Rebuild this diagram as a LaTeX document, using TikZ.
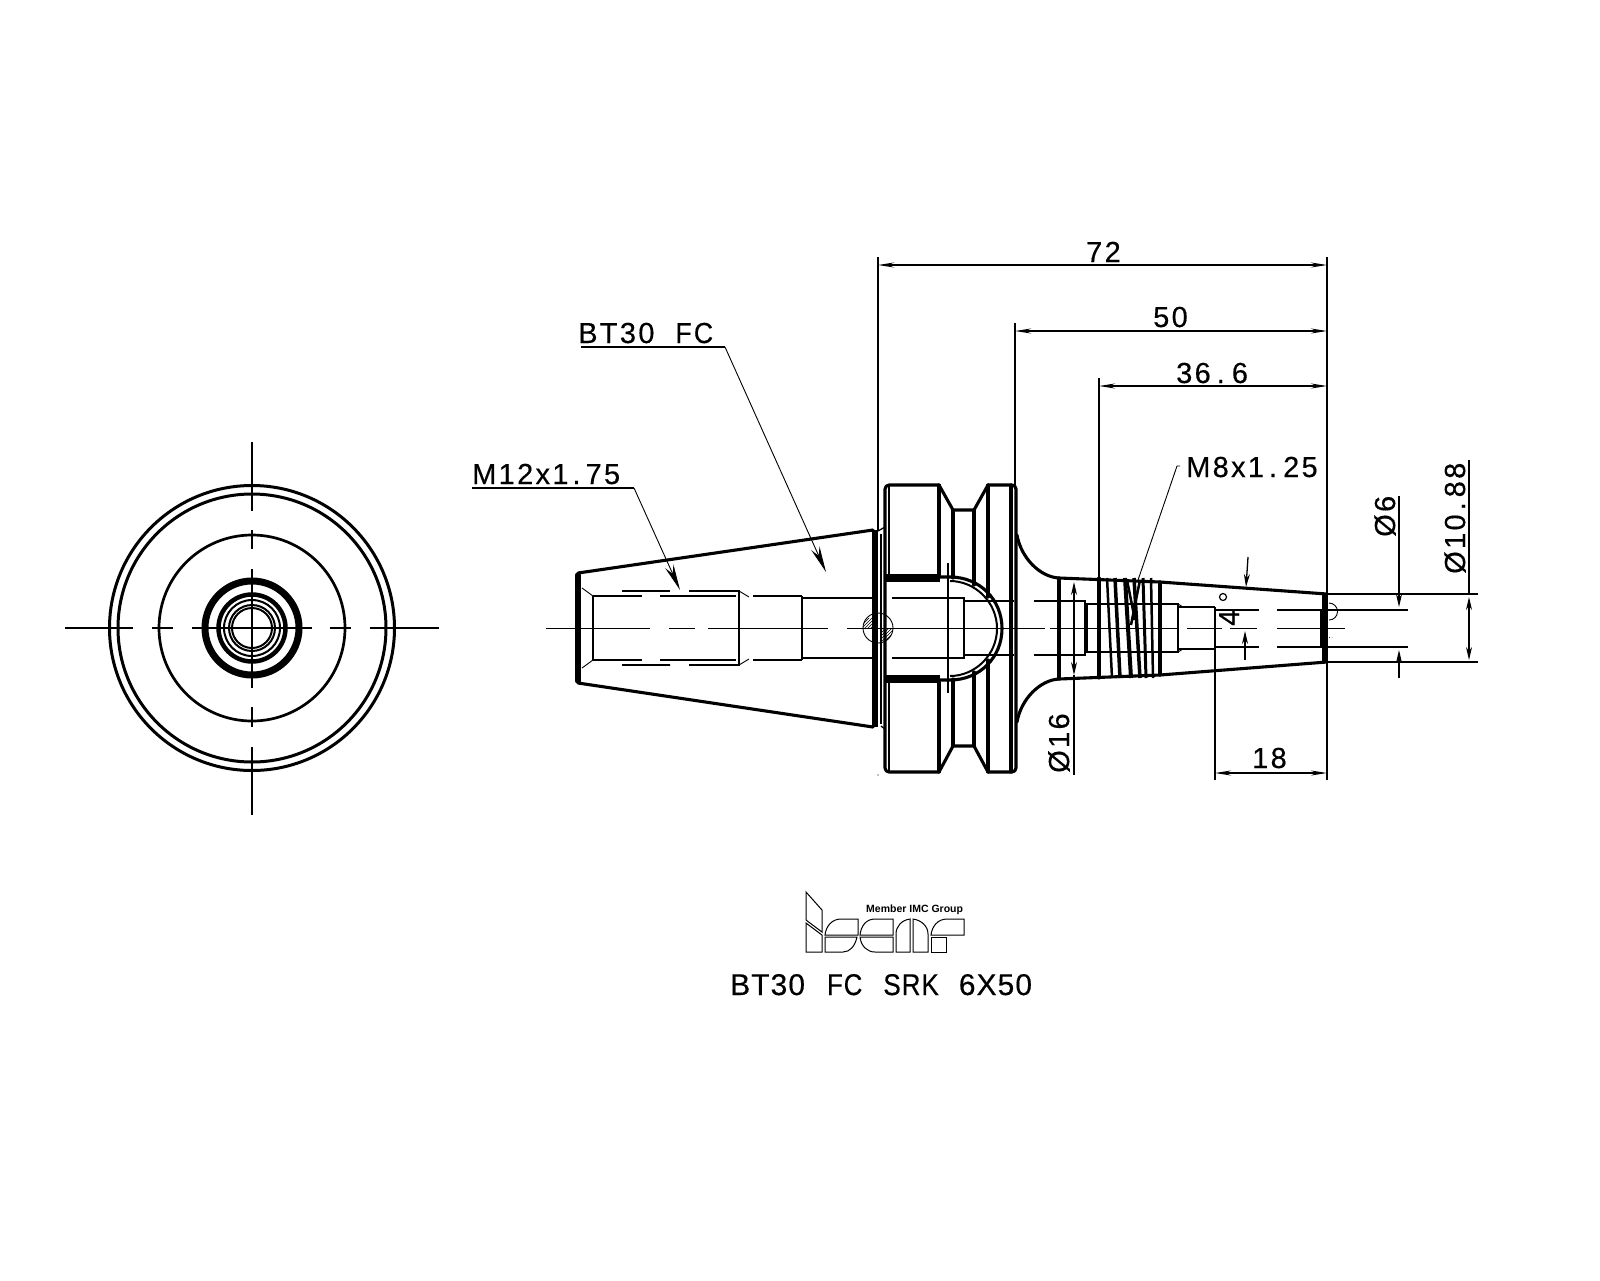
\documentclass[tikz,border=0pt]{standalone}
\usepackage{fontspec}
\setmainfont{Liberation Sans}
\newfontfamily\cadfont[LetterSpace=8,FakeBold=0.35]{Liberation Sans}
\newfontfamily\titlefont[LetterSpace=3.5,FakeBold=0.35]{Liberation Sans}
\usetikzlibrary{arrows.meta,patterns}
\newcommand{\cadpt}{\kern4pt.\kern5pt}
\tikzset{
  heavy/.style={line width=3.1pt,line join=round,line cap=round},
  bar/.style={line width=5.5pt,line cap=round},
  mid/.style={line width=2pt},
  thin line/.style={line width=1.3pt},
  hair/.style={line width=0.9pt},
  dimflat/.style={line width=1.3pt,{Stealth[length=16pt,width=5pt]}-{Stealth[length=16pt,width=5pt]}},
  tipv/.style={line width=1.3pt,-{Stealth[length=13pt,width=6pt]}},
  tipv2/.style={line width=1.3pt,{Stealth[length=13pt,width=6pt]}-{Stealth[length=13pt,width=6pt]}},
  leader/.style={line width=0.9pt,-{Stealth[length=26pt,width=9pt]}},
  dimtext/.style={inner sep=0pt,anchor=base west,font=\cadfont\fontsize{29}{29}\selectfont},
  logoline/.style={line width=1pt,line join=miter},
}
\begin{document}
\begin{tikzpicture}[x=1pt,y=-1pt]
\useasboundingbox (0,0) rectangle (1600,1280);
\fill[white] (0,0) rectangle (1600,1280);

% ---------- end view
\foreach \r/\w in {142.5/3,134/3,93/2.7,47/7,33.5/4.5,28/2,23/2,20/2}
  \draw[line width=\w pt] (252,628) circle (\r);
\foreach \a/\b in {65/133,152/173,192/312,330/351,370/439}
  \draw[thin line] (\a,628) -- (\b,628);
\foreach \a/\b in {442/511,530/549,569/688,707/727,747/815}
  \draw[thin line] (252,\a) -- (252,\b);

% ---------- cone
\draw[heavy] (578,573) -- (873,530);
\draw[heavy] (578,683) -- (873,727);
\draw[bar] (578,575) -- (578,681);
\draw[line width=6.5pt] (875,530) -- (875,727);
\draw[thin line] (881,534) -- (881,724);
\draw[thin line] (878,531) -- (885,527) (881,726) -- (885,729);
% cone inner
\draw[hair] (582,588) -- (593,596) (582,668) -- (593,660);
\draw[thin line] (593,596) -- (593,660);
\draw[thin line] (593,596) -- (642,596) (660,596) -- (736,596);
\draw[thin line] (593,660) -- (642,660) (660,660) -- (736,660);
\draw[thin line] (622,591) -- (670,591) (689,591) -- (739,591) -- (739,665) -- (689,665) (670,665) -- (622,665) -- cycle;
\draw[hair] (739,591) -- (749,597) (739,665) -- (749,659);
\draw[thin line] (753,596) -- (802,596) (753,660) -- (802,660);
\draw[mid] (802,596) -- (802,660);
\draw[thin line] (802,598) -- (872,598) (802,658) -- (872,658);
% centre line
\foreach \a/\b in {546/650,669/695,708/828,847/1045,1050/1178,1187/1222,1230/1257,1277/1345}
  \draw[thin line] (\a,628.5) -- (\b,628.5);

% ---------- flange
\draw[heavy,rounded corners=4pt] (939,485) -- (885,485) -- (885,772) -- (939,772);
\draw[heavy] (939,485) -- (953,510) -- (974,510) -- (988,485);
\draw[heavy] (939,772) -- (953,746) -- (974,746) -- (988,772);
\draw[heavy,rounded corners=4pt] (988,485) -- (1016,485) -- (1016,772) -- (988,772);
\draw[mid] (889,485) -- (889,575) (889,682) -- (889,772);
\draw[heavy] (939,485) -- (939,575) (939,682) -- (939,772);
\draw[heavy] (953,510) -- (953,578) (953,679) -- (953,746);
\draw[heavy] (974,510) -- (974,585) (974,672) -- (974,746);
\draw[heavy] (988,485) -- (988,597) (988,660) -- (988,772);
\draw[heavy] (1011,485) -- (1011,772);
% keyway
\fill (885,574) rectangle (940,582);
\fill (885,675) rectangle (940,683);
\draw[heavy] (940,577) -- (950,577) .. controls (980,577) and (1002,600) .. (1002,628.5) .. controls (1002,657) and (980,680) .. (950,680) -- (940,680);
\draw[mid] (950,581) .. controls (975,581) and (997,602) .. (997,628.5) .. controls (997,655) and (975,676) .. (950,676);
\draw[thin line] (948,563) -- (948,693);
\draw[thin line] (892,598) -- (964,598) -- (964,658) -- (892,658);
\draw[thin line] (964,601) -- (1014,601) (964,655) -- (1014,655);
\draw[thin line] (1034,601) -- (1085,601) -- (1085,655) -- (1034,655);
% small circle with hatch
\draw[hair] (878,628) circle (15);
\begin{scope}
  \clip (878,628) circle (15);
  \fill[pattern=north east lines] (863,618) rectangle (872,628);
  \fill[pattern=north east lines] (882,628) rectangle (893,640);
\end{scope}
% fillet and neck
\draw[heavy] (1017,535) .. controls (1021,558) and (1040,577) .. (1059,578) -- (1160,582) -- (1327,594);
\draw[heavy] (1017,722) .. controls (1021,699) and (1040,680) .. (1059,679) -- (1160,675) -- (1327,662);
\draw[heavy] (1059,578) -- (1059,679);
\draw[heavy] (1099,578) -- (1099,678);
\draw[heavy] (1160,582) -- (1160,675);
% threads
\foreach \a/\b/\c in {1107/1112/2.5,1115/1120/3.5,1125/1131/4,1134/1140/3.5,1143/1146/3,1151/1153/2.5}
  \draw[line width=\c pt] (\a,578) -- (\b,678);
\draw[line width=2.5pt] (1127,580) -- (1135,620) (1140,580) -- (1131,625);
% inner bore
\draw[thin line] (1087,604) -- (1178,604) -- (1178,652) -- (1087,652) -- cycle;
\draw[hair] (1178,604) -- (1183,607) (1178,652) -- (1183,649);
\draw[thin line] (1178,607) -- (1215,607) (1178,649) -- (1215,649);
\draw[mid] (1215,607) -- (1215,649);
\draw[thin line] (1215,610) -- (1259,610) (1277,610) -- (1408,610);
\draw[thin line] (1215,647) -- (1259,647) (1277,647) -- (1408,647);
\draw[thin line] (1321,610) -- (1321,647);
% tip
\draw[line width=5.5pt] (1325,594) -- (1325,662);
\draw[hair] (1329,620) arc (90:-90:8.5);
\begin{scope}
  \clip (1329,637) arc (-90:90:8.5) -- cycle;
  \fill[pattern=north east lines] (1328,628) rectangle (1338,637);
\end{scope}

% ---------- dimensions
\draw[thin line] (878,257) -- (878,531);
\fill (878,775) circle (0.7);
\draw[thin line] (1015,323) -- (1015,485);
\draw[thin line] (1099,378) -- (1099,578);
\draw[thin line] (1327,257) -- (1327,780);
\draw[dimflat] (878,265) -- (1327,265);
\draw[dimflat] (1015,331) -- (1327,331);
\draw[dimflat] (1099,386) -- (1327,386);
\draw[thin line] (1215,649) -- (1215,780);
\draw[dimflat] (1215,773) -- (1327,773);
\draw[thin line] (1327,594) -- (1478,594) (1327,662) -- (1478,662);
% diameters
\draw[tipv2] (1074,582) -- (1074,675);
\draw[thin line] (1074,675) -- (1074,775);
\draw[tipv] (1399,496) -- (1399,607);
\draw[tipv] (1399,678) -- (1399,650);
\draw[thin line] (1469,460) -- (1469,594);
\draw[tipv2] (1469,597) -- (1469,660);
% angle
\draw[tipv] (1248,557) -- (1246,587);
\draw[tipv] (1245,660) -- (1245,631);
% leaders
\draw[thin line] (472,488) -- (634,488);
\draw[leader] (634,488) -- (680,590);
\draw[thin line] (581,347) -- (725,347);
\draw[leader] (725,347) -- (826,572);
\draw[hair] (1180,466) -- (1177,466) -- (1138,580);

% ---------- texts
\node[dimtext] (t72) at (1086,262) {72};
\node[dimtext] (t50) at (1153,327) {50};
\node[dimtext] (t366) at (1176,383) {36\kern6pt.\kern7pt 6};
\node[dimtext] (t18) at (1252,768) {18};
\node[dimtext] (tm8) at (1186,477) {M8x1\kern5pt.\kern6pt 25};
\node[dimtext] (tm12) at (472,484) {M12x1\cadpt 75};
\node[dimtext] (tbt) at (578,343) {BT30\kern21pt\scalebox{0.92}[1]{FC}};
\node[dimtext,rotate=90] (t16) at (1069,773) {Ø16};
\node[dimtext,rotate=90] (t6) at (1395,537) {Ø6};
\node[dimtext,rotate=90] (t1088) at (1465,574) {Ø10\cadpt 88};
\node[dimtext,rotate=90] (t4) at (1239,626) {4};
\draw[line width=1.2pt] (1223,597) circle (3.5);

% ---------- logo
\draw[logoline] (806,892) -- (822,910) -- (822,932) -- (806,920) -- cycle;
\draw[logoline] (806,923) -- (822,935) -- (822,952) -- (806,952) -- cycle;
\draw[logoline] (825,935) .. controls (826,926) and (832,919) .. (841,919) -- (858,919) -- (858,935) -- cycle;
\draw[logoline] (825,937) -- (857,937) .. controls (855,946) and (850,952) .. (843,952) -- (825,952) -- cycle;
\draw[logoline] (860,935) .. controls (861,926) and (866,919) .. (875,919) -- (893,919) -- (893,935) -- cycle;
\draw[logoline] (860,937) -- (893,937) -- (893,952) -- (875,952) .. controls (867,952) and (861,946) .. (860,937) -- cycle;
\draw[logoline] (896,952) -- (896,934) .. controls (896,926) and (902,920) .. (910,919) -- (910,952) -- cycle;
\draw[logoline] (913,952) -- (913,919) .. controls (921,920) and (928,926) .. (928,934) -- (928,952) -- cycle;
\draw[logoline] (931,935) .. controls (932,926) and (938,919) .. (947,919) -- (964,919) -- (964,935) -- cycle;
\draw[logoline] (931,937) -- (946,937) -- (946,952) -- (931,952) -- cycle;
\node[inner sep=0pt,anchor=base west,font=\bfseries\fontsize{10.5}{10.5}\selectfont] (tmember) at (866,912) {Member IMC Group};
\node[inner sep=0pt,anchor=base west,font=\titlefont\fontsize{30}{30}\selectfont] (ttitle) at (730,995) {BT30\kern22pt\scalebox{0.86}[1]{FC}\kern21pt\scalebox{0.87}[1]{SRK}\kern20pt 6X50};
\end{tikzpicture}
\end{document}
